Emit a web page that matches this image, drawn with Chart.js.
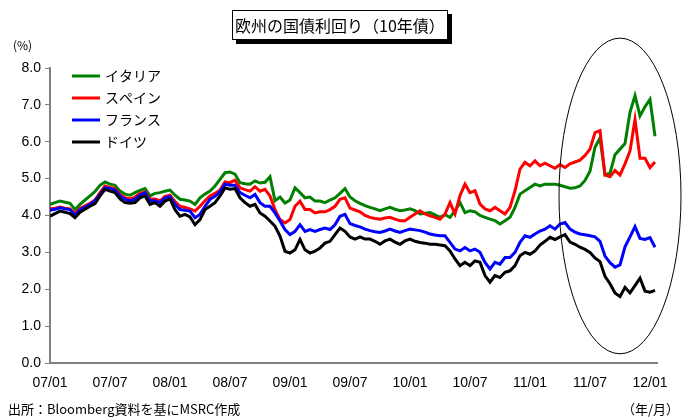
<!DOCTYPE html>
<html lang="ja">
<head>
<meta charset="utf-8">
<title>欧州の国債利回り（10年債）</title>
<script src="https://cdn.jsdelivr.net/npm/chart.js@4"></script>
<style>
  html, body { margin: 0; padding: 0; background: #fff; }
  #wrap { position: relative; width: 684px; height: 418px; overflow: hidden; font-family: "Noto Sans CJK JP", sans-serif; color: #000; }
  #chart { position: absolute; left: 0; top: 0; }
  .title { position: absolute; left: 232px; top: 10px; width: 214px; height: 28px; border: 1px solid #000; box-shadow: 4px 4px 0 #000; background: #fff; font-size: 16px; line-height: 28px; text-align: center; }
  .unit { position: absolute; left: 13px; top: 36px; font-size: 12px; }
  .source { position: absolute; left: 8px; top: 399px; font-size: 13px; }
  .xunit { position: absolute; right: 5px; top: 399px; font-size: 13px; }
</style>
</head>
<body>
<div id="wrap">
  <canvas id="chart" width="684" height="418"></canvas>
  <div class="title">欧州の国債利回り（10年債）</div>
  <div class="unit">(%)</div>
  <div class="source">出所：Bloomberg資料を基にMSRC作成</div>
  <div class="xunit">（年/月）</div>
</div>
<script>
// 2007年1月からの経過月数（半月ごと）
const months = [
  0, 0.5, 1, 1.5, 2, 2.5, 3, 3.5, 4, 4.5, 5, 5.5,
  6, 6.5, 7, 7.5, 8, 8.5, 9, 9.5, 10, 10.5, 11, 11.5,
  12, 12.5, 13, 13.5, 14, 14.5, 15, 15.5, 16, 16.5, 17, 17.5,
  18, 18.5, 19, 19.5, 20, 20.5, 21, 21.5, 22, 22.5, 23, 23.5,
  24, 24.5, 25, 25.5, 26, 26.5, 27, 27.5, 28, 28.5, 29, 29.5,
  30, 30.5, 31, 31.5, 32, 32.5, 33, 33.5, 34, 34.5, 35, 35.5,
  36, 36.5, 37, 37.5, 38, 38.5, 39, 39.5, 40, 40.5, 41, 41.5,
  42, 42.5, 43, 43.5, 44, 44.5, 45, 45.5, 46, 46.5, 47, 47.5,
  48, 48.5, 49, 49.5, 50, 50.5, 51, 51.5, 52, 52.5, 53, 53.5,
  54, 54.5, 55, 55.5, 56, 56.5, 57, 57.5, 58, 58.5, 59, 59.5,
  60, 60.5
];

// 10年債利回り（%）
const italy = [
  4.30, 4.35, 4.39, 4.36, 4.33, 4.16, 4.30, 4.42, 4.53, 4.65, 4.82, 4.91,
  4.85, 4.82, 4.66, 4.58, 4.55, 4.62, 4.68, 4.73, 4.53, 4.60, 4.62, 4.66,
  4.69, 4.55, 4.44, 4.42, 4.39, 4.30, 4.48, 4.58, 4.66, 4.80, 4.98, 5.16,
  5.18, 5.12, 4.89, 4.86, 4.85, 4.94, 4.88, 4.90, 5.05, 4.40, 4.50, 4.34,
  4.42, 4.75, 4.62, 4.48, 4.50, 4.39, 4.39, 4.35, 4.42, 4.48, 4.60, 4.73,
  4.50, 4.40, 4.33, 4.27, 4.22, 4.18, 4.13, 4.18, 4.22, 4.17, 4.13, 4.15,
  4.18, 4.13, 4.04, 4.06, 4.08, 4.02, 3.95, 4.02, 3.95, 4.13, 4.35, 4.08,
  4.13, 4.10, 4.00, 3.95, 3.90, 3.86, 3.77, 3.86, 3.95, 4.22, 4.58, 4.67,
  4.76, 4.85, 4.80, 4.85, 4.85, 4.85, 4.82, 4.78, 4.74, 4.75, 4.80, 4.95,
  5.20, 5.85, 6.10, 5.10, 5.15, 5.65, 5.80, 5.95, 6.80, 7.25, 6.70, 6.95,
  7.15, 6.15
];
const spain = [
  4.18, 4.20, 4.23, 4.20, 4.18, 4.05, 4.19, 4.26, 4.33, 4.42, 4.62, 4.80,
  4.76, 4.73, 4.57, 4.48, 4.45, 4.50, 4.60, 4.64, 4.44, 4.45, 4.40, 4.52,
  4.55, 4.38, 4.25, 4.22, 4.18, 4.12, 4.25, 4.40, 4.53, 4.60, 4.69, 4.91,
  4.89, 4.96, 4.75, 4.70, 4.66, 4.78, 4.66, 4.71, 4.53, 4.16, 3.89, 3.80,
  3.89, 4.25, 4.39, 4.16, 4.16, 4.07, 4.10, 4.10, 4.16, 4.25, 4.44, 4.48,
  4.20, 4.15, 4.10, 4.00, 3.95, 3.92, 3.90, 3.93, 3.95, 3.90, 3.86, 3.86,
  3.95, 4.04, 4.13, 4.04, 3.99, 3.95, 3.90, 4.04, 4.35, 4.04, 4.54, 4.85,
  4.62, 4.67, 4.31, 4.18, 4.13, 4.22, 4.13, 4.04, 4.22, 4.67, 5.26, 5.44,
  5.35, 5.48, 5.35, 5.42, 5.35, 5.28, 5.38, 5.30, 5.40, 5.45, 5.50, 5.63,
  5.80, 6.25, 6.30, 5.10, 5.05, 5.22, 5.10, 5.40, 5.75, 6.60, 5.55, 5.55,
  5.30, 5.45
];
const france = [
  4.14, 4.17, 4.21, 4.18, 4.16, 4.00, 4.16, 4.23, 4.30, 4.40, 4.57, 4.75,
  4.73, 4.69, 4.53, 4.44, 4.39, 4.44, 4.55, 4.62, 4.39, 4.40, 4.35, 4.48,
  4.51, 4.30, 4.16, 4.14, 4.12, 3.94, 4.03, 4.25, 4.44, 4.52, 4.64, 4.85,
  4.82, 4.82, 4.62, 4.55, 4.48, 4.57, 4.35, 4.25, 4.25, 4.07, 3.85, 3.62,
  3.48, 3.57, 3.75, 3.57, 3.62, 3.57, 3.62, 3.66, 3.62, 3.75, 3.98, 4.03,
  3.78, 3.73, 3.69, 3.63, 3.59, 3.56, 3.54, 3.58, 3.63, 3.58, 3.54, 3.59,
  3.63, 3.61, 3.59, 3.55, 3.50, 3.47, 3.45, 3.45, 3.27, 3.09, 3.04, 3.13,
  3.04, 3.09, 3.00, 2.73, 2.55, 2.73, 2.68, 2.86, 2.86, 3.00, 3.27, 3.45,
  3.41, 3.50, 3.58, 3.63, 3.72, 3.63, 3.77, 3.81, 3.63, 3.55, 3.50, 3.48,
  3.45, 3.42, 3.30, 2.90, 2.72, 2.60, 2.66, 3.15, 3.42, 3.70, 3.38, 3.35,
  3.40, 3.14
];
const germany = [
  3.98, 4.05, 4.12, 4.09, 4.05, 3.94, 4.09, 4.17, 4.25, 4.32, 4.53, 4.71,
  4.66, 4.62, 4.45, 4.35, 4.33, 4.35, 4.48, 4.53, 4.30, 4.35, 4.25, 4.39,
  4.45, 4.16, 3.98, 4.03, 3.96, 3.75, 3.89, 4.16, 4.25, 4.35, 4.53, 4.75,
  4.71, 4.73, 4.48, 4.35, 4.25, 4.30, 4.07, 3.98, 3.85, 3.71, 3.44, 3.03,
  2.98, 3.07, 3.35, 3.07, 2.98, 3.03, 3.12, 3.25, 3.30, 3.48, 3.66, 3.57,
  3.42, 3.36, 3.42, 3.36, 3.36, 3.30, 3.22, 3.31, 3.36, 3.28, 3.22, 3.31,
  3.36, 3.30, 3.27, 3.25, 3.22, 3.22, 3.20, 3.18, 3.04, 2.82, 2.64, 2.73,
  2.64, 2.77, 2.73, 2.37, 2.19, 2.37, 2.32, 2.46, 2.50, 2.64, 2.91, 3.00,
  2.95, 3.04, 3.20, 3.30, 3.41, 3.35, 3.42, 3.48, 3.28, 3.22, 3.14, 3.08,
  3.00, 2.85, 2.75, 2.35, 2.15, 1.90, 1.80, 2.05, 1.90, 2.10, 2.30, 1.95,
  1.92, 1.97
];

const seriesNames = ['イタリア', 'スペイン', 'フランス', 'ドイツ'];
const seriesColors = ['#008000', '#ff0000', '#0000ff', '#000000'];

// 目盛り
const xTickMonths = [0, 6, 12, 18, 24, 30, 36, 42, 48, 54, 60];
const xTickLabels = ['07/01', '07/07', '08/01', '08/07', '09/01', '09/07', '10/01', '10/07', '11/01', '11/07', '12/01'];
const yTicks = [0, 1, 2, 3, 4, 5, 6, 7, 8];

// 直近の動きを囲む楕円（月, %）
const focus = { month: 57.0, value: 4.53, rMonth: 6.1, rValue: 4.28 };

const toPoints = (vals) => vals.map((v, i) => ({ x: months[i], y: v }));

// 凡例と楕円を描く
const overlay = {
  id: 'overlay',
  afterDatasetsDraw(chart) {
    const { ctx, chartArea, scales } = chart;
    ctx.save();
    ctx.font = '14px "Noto Sans CJK JP"';
    ctx.textBaseline = 'middle';
    seriesNames.forEach((name, i) => {
      const ly = chartArea.top + 8 + i * 22;
      const lx = chartArea.left + 22;
      ctx.strokeStyle = seriesColors[i];
      ctx.lineWidth = 3;
      ctx.beginPath();
      ctx.moveTo(lx, ly);
      ctx.lineTo(lx + 28, ly);
      ctx.stroke();
      ctx.fillStyle = '#000';
      ctx.fillText(name, lx + 33, ly);
    });

    const cx = scales.x.getPixelForValue(focus.month);
    const cy = scales.y.getPixelForValue(focus.value);
    const rx = scales.x.getPixelForValue(focus.month + focus.rMonth) - cx;
    const ry = cy - scales.y.getPixelForValue(focus.value + focus.rValue);
    ctx.strokeStyle = '#000';
    ctx.lineWidth = 1;
    ctx.beginPath();
    ctx.ellipse(cx, cy, rx, ry, 0, 0, Math.PI * 2);
    ctx.stroke();
    ctx.restore();
  }
};

const series = [italy, spain, france, germany];
const ctx = document.getElementById('chart').getContext('2d');
new Chart(ctx, {
  type: 'line',
  data: {
    datasets: series.map((vals, i) => ({
      label: seriesNames[i],
      data: toPoints(vals),
      borderColor: seriesColors[i],
      borderWidth: 3,
      pointRadius: 0,
      tension: 0,
      order: 4 - i, // ドイツを一番上に
    })),
  },
  options: {
    responsive: false,
    animation: false,
    devicePixelRatio: 1,
    layout: { padding: { top: 68, right: 27, bottom: 0, left: 0 } },
    plugins: {
      legend: { display: false },
      tooltip: { enabled: false },
    },
    scales: {
      x: {
        type: 'linear',
        min: 0,
        max: 60.7,
        afterBuildTicks: (s) => { s.ticks = xTickMonths.map((v) => ({ value: v })); },
        afterFit: (s) => { s.height = 55; },
        ticks: {
          autoSkip: false,
          maxRotation: 0,
          padding: 12,
          color: '#000',
          font: { family: 'Liberation Sans', size: 14 },
          callback: (v, i) => xTickLabels[i],
        },
        grid: { display: false, drawTicks: false },
        border: { display: true, color: '#808080', width: 2 },
      },
      y: {
        min: 0,
        max: 8,
        afterBuildTicks: (s) => { s.ticks = yTicks.map((v) => ({ value: v })); },
        afterFit: (s) => { s.width = 50; },
        ticks: {
          padding: 4,
          color: '#000',
          font: { family: 'Liberation Sans', size: 14 },
          callback: (v) => v.toFixed(1),
        },
        grid: { display: true, drawOnChartArea: false, drawTicks: true, tickLength: 5, color: '#808080', tickColor: '#808080' },
        border: { display: true, color: '#808080', width: 2 },
      },
    },
  },
  plugins: [overlay],
});
</script>
</body>
</html>
